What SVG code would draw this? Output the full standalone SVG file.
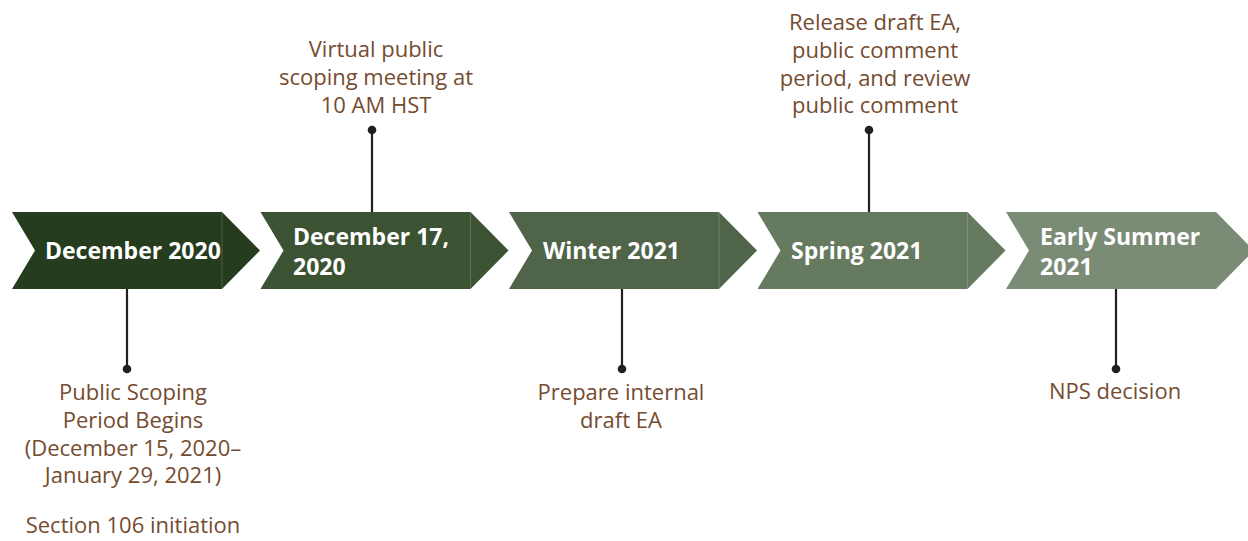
<svg xmlns="http://www.w3.org/2000/svg" width="1248" height="541" viewBox="0 0 1248 541">
<style>
.lbl{font-family:"Open Sans","Noto Sans","Liberation Sans",sans-serif;font-size:22px;fill:#754c2f;text-anchor:middle}
.hd{font-family:"Open Sans","Noto Sans","Liberation Sans",sans-serif;font-size:23px;font-weight:bold;fill:#ffffff}
.ln{stroke:#231f20;stroke-width:2.2;fill:none}
.dot{fill:#231f20}
.seam{stroke:#ffffff;stroke-opacity:0.18;stroke-width:1}
</style>
<defs>
<path id="chev" d="M0,212 H210 L248,250.5 L210,289 H0 L23,250.5 Z"/>
</defs>
<rect width="1248" height="541" fill="#ffffff"/>
<g id="node1">
<use href="#chev" x="12" fill="#253c1e"/>
<line class="seam" x1="222" y1="212" x2="222" y2="289"/>
<text class="hd" x="45" y="259">December 2020</text>
</g>
<g id="node2">
<use href="#chev" x="260.5" fill="#3b5233"/>
<line class="seam" x1="470.5" y1="212" x2="470.5" y2="289"/>
<text class="hd" x="293" y="244.5">December 17,</text>
<text class="hd" x="293" y="274.5">2020</text>
</g>
<g id="node3">
<use href="#chev" x="509" fill="#50644a"/>
<line class="seam" x1="719" y1="212" x2="719" y2="289"/>
<text class="hd" x="543" y="259">Winter 2021</text>
</g>
<g id="node4">
<use href="#chev" x="757.5" fill="#667a5f"/>
<line class="seam" x1="967.5" y1="212" x2="967.5" y2="289"/>
<text class="hd" x="791" y="259">Spring 2021</text>
</g>
<g id="node5">
<use href="#chev" x="1006" fill="#7b8c76"/>
<text class="hd" x="1040" y="244.5">Early Summer</text>
<text class="hd" x="1040" y="274.5">2021</text>
</g>
<g id="connectors">
<line class="ln" x1="127" y1="289" x2="127" y2="369"/>
<circle class="dot" cx="127" cy="369" r="4.3"/>
<line class="ln" x1="372" y1="130" x2="372" y2="212"/>
<circle class="dot" cx="372" cy="130" r="4.3"/>
<line class="ln" x1="622" y1="289" x2="622" y2="369"/>
<circle class="dot" cx="622" cy="369" r="4.3"/>
<line class="ln" x1="869" y1="130" x2="869" y2="212"/>
<circle class="dot" cx="869" cy="130" r="4.3"/>
<line class="ln" x1="1116" y1="289" x2="1116" y2="369"/>
<circle class="dot" cx="1116" cy="369" r="4.3"/>
</g>
<g id="label1">
<text class="lbl" x="133" y="400">Public Scoping</text>
<text class="lbl" x="133" y="428">Period Begins</text>
<text class="lbl" x="133" y="456">(December 15, 2020–</text>
<text class="lbl" x="133" y="483">January 29, 2021)</text>
<text class="lbl" x="133" y="533">Section 106 initiation</text>
</g>
<g id="label2">
<text class="lbl" x="376" y="57">Virtual public</text>
<text class="lbl" x="376" y="85">scoping meeting at</text>
<text class="lbl" x="376" y="113">10 AM HST</text>
</g>
<g id="label3">
<text class="lbl" x="621" y="400">Prepare internal</text>
<text class="lbl" x="621" y="428">draft EA</text>
</g>
<g id="label4">
<text class="lbl" x="875" y="30">Release draft EA,</text>
<text class="lbl" x="875" y="58">public comment</text>
<text class="lbl" x="875" y="86">period, and review</text>
<text class="lbl" x="875" y="113">public comment</text>
</g>
<g id="label5">
<text class="lbl" x="1115" y="399">NPS decision</text>
</g>
</svg>
